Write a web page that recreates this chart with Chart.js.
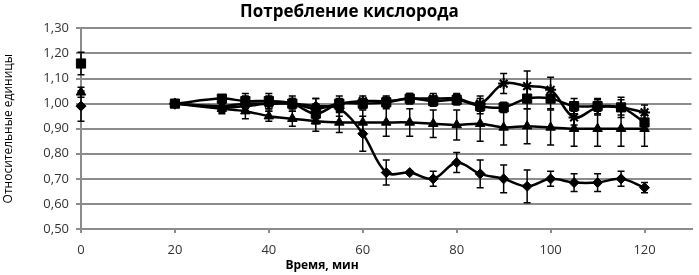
<!DOCTYPE html>
<html>
<head>
<meta charset="utf-8">
<script src="https://cdn.jsdelivr.net/npm/chart.js@4/dist/chart.umd.min.js"></script>
<style>
  html, body { margin: 0; padding: 0; background: #fff; }
  #wrap { width: 699px; height: 275px; }
</style>
</head>
<body>
<div id="wrap"><canvas id="o2Chart" width="699" height="275"></canvas></div>
<script>
// Time points (min)
const times = [0, 20, 30, 35, 40, 45, 50, 55, 60, 65, 70, 75, 80, 85, 90, 95, 100, 105, 110, 115, 120];

// Series values (relative units) and error bar half-lengths
const diamondVals = [0.99, 1.00, 0.985, 0.99, 1.00, 1.00, 0.99, 0.98, 0.88, 0.725, 0.725, 0.70, 0.765, 0.72, 0.70, 0.67, 0.70, 0.685, 0.685, 0.70, 0.665];
const diamondErr  = [0.06, 0, 0.02, 0.02, 0.02, 0.02, 0.03, 0.03, 0.07, 0.05, 0.005, 0.03, 0.04, 0.055, 0.055, 0.065, 0.03, 0.035, 0.035, 0.03, 0.02];

const squareVals = [1.16, 1.00, 1.02, 1.01, 1.01, 1.00, 0.96, 1.00, 1.00, 1.005, 1.02, 1.01, 1.015, 0.99, 0.985, 1.02, 1.02, 0.99, 0.99, 0.985, 0.925];
const squareErr  = [0.045, 0, 0.01, 0.03, 0.03, 0.02, 0.04, 0.02, 0.02, 0.02, 0.02, 0.02, 0.02, 0.03, 0.02, 0.04, 0.04, 0.03, 0.03, 0.03, 0.03];

const triangleVals = [1.045, 1.00, 0.98, 0.97, 0.95, 0.94, 0.93, 0.925, 0.925, 0.925, 0.925, 0.92, 0.915, 0.92, 0.905, 0.91, 0.905, 0.90, 0.90, 0.90, 0.90];
const triangleErr  = [0.02, 0, 0.02, 0.03, 0.02, 0.03, 0.04, 0.04, 0.05, 0.055, 0.055, 0.055, 0.06, 0.07, 0.07, 0.07, 0.07, 0.07, 0.07, 0.07, 0.07];

const starVals = [null, 1.00, 0.99, 1.00, 1.00, 1.00, 0.98, 1.00, 1.01, 1.01, 1.02, 1.02, 1.02, 1.00, 1.08, 1.07, 1.055, 0.945, 0.985, 0.985, 0.965];
const starErr  = [0, 0, 0.02, 0.03, 0.03, 0.03, 0.04, 0.03, 0.02, 0.02, 0.02, 0.02, 0.02, 0.03, 0.04, 0.06, 0.05, 0.03, 0.03, 0.04, 0.03];

// Axis settings
const yMin = 0.5, yMax = 1.3, yStep = 0.1;
const xMin = 0, xMax = 130, xStep = 20;

const FONT = "'Open Sans', sans-serif";

// Build {x, y, e} points; the first point (t=0) is not joined to the rest
function buildPoints(vals, errs) {
  const pts = [];
  times.forEach((t, i) => {
    pts.push({ x: t, y: vals[i], e: errs[i] });
    if (i === 0) pts.push({ x: (t + times[1]) / 2, y: null, e: 0 });
  });
  return pts;
}

function series(label, vals, errs, style, radius) {
  return {
    label: label,
    data: buildPoints(vals, errs),
    borderColor: "#000",
    backgroundColor: "#000",
    borderWidth: 2.5,
    tension: 0.35,
    spanGaps: false,
    clip: false,
    pointStyle: style,
    pointRadius: radius,
    pointBorderWidth: style === "star" ? 2 : 1,
    pointBackgroundColor: "#000",
    pointBorderColor: "#000",
  };
}

// Error bars drawn through the chart's own scales
const errorBars = {
  id: "errorBars",
  beforeDatasetsDraw(chart) {
    const ctx = chart.ctx;
    const ys = chart.scales.y;
    ctx.save();
    ctx.strokeStyle = "#000";
    ctx.lineWidth = 1.5;
    chart.data.datasets.forEach((ds, di) => {
      const meta = chart.getDatasetMeta(di);
      meta.data.forEach((el, j) => {
        const p = ds.data[j];
        if (p.y === null || !p.e) return;
        const x = el.x;
        const top = ys.getPixelForValue(p.y + p.e);
        const bot = ys.getPixelForValue(p.y - p.e);
        ctx.beginPath();
        ctx.moveTo(x, top); ctx.lineTo(x, bot);
        ctx.moveTo(x - 3.5, top); ctx.lineTo(x + 3.5, top);
        ctx.moveTo(x - 3.5, bot); ctx.lineTo(x + 3.5, bot);
        ctx.stroke();
      });
    });
    ctx.restore();
  },
};

// X axis title placed like in the original (left of plot centre)
const xTitle = {
  id: "xTitle",
  afterDraw(chart) {
    const ctx = chart.ctx;
    ctx.save();
    ctx.font = "bold 12px " + FONT;
    ctx.fillStyle = "#000";
    ctx.textAlign = "center";
    ctx.textBaseline = "middle";
    ctx.fillText("Время, мин", chart.chartArea.left + 241, 266);
    ctx.restore();
  },
};

function initChart() {
  const ctx = document.getElementById("o2Chart").getContext("2d");
  new Chart(ctx, {
    type: "line",
    data: {
      datasets: [
        series("Ромб", diamondVals, diamondErr, "rectRot", 5),
        series("Квадрат", squareVals, squareErr, "rect", 6.5),
        series("Треугольник", triangleVals, triangleErr, "triangle", 5.5),
        series("Звезда", starVals, starErr, "star", 5.5),
      ],
    },
    options: {
      responsive: false,
      animation: false,
      layout: { padding: { left: 0, right: 0, top: 0, bottom: 0 } },
      plugins: {
        legend: { display: false },
        tooltip: { enabled: false },
        title: {
          display: true,
          text: "Потребление кислорода",
          color: "#000",
          font: { family: FONT, size: 17, weight: "bold" },
          padding: { top: 2, bottom: 6 },
        },
      },
      scales: {
        x: {
          type: "linear",
          min: xMin,
          max: xMax,
          afterBuildTicks: (scale) => {
            scale.ticks = scale.ticks.filter((t) => t.value % xStep === 0);
          },
          afterFit: (scale) => { scale.height = 46; },
          ticks: {
            stepSize: xStep,
            color: "#333",
            font: { family: FONT, size: 13 },
            padding: 9,
            maxRotation: 0,
          },
          grid: {
            drawOnChartArea: false,
            color: "#8c8c8c",
            lineWidth: 2,
            tickLength: 4,
          },
          border: { display: true, color: "#8c8c8c", width: 2 },
        },
        y: {
          min: yMin,
          max: yMax,
          afterFit: (scale) => { scale.width = 81; },
          ticks: {
            stepSize: yStep,
            color: "#333",
            font: { family: FONT, size: 13 },
            padding: 7,
            callback: (v) => v.toFixed(2).replace(".", ","),
          },
          grid: {
            color: "#8c8c8c",
            lineWidth: 2,
            tickLength: 5,
          },
          border: { display: true, color: "#8c8c8c", width: 2 },
          title: {
            display: true,
            text: "Относительные единицы",
            color: "#000",
            font: { family: FONT, size: 12 },
            padding: { top: 1, bottom: 0 },
          },
        },
      },
    },
    plugins: [errorBars, xTitle],
  });
}

initChart();
</script>
</body>
</html>
